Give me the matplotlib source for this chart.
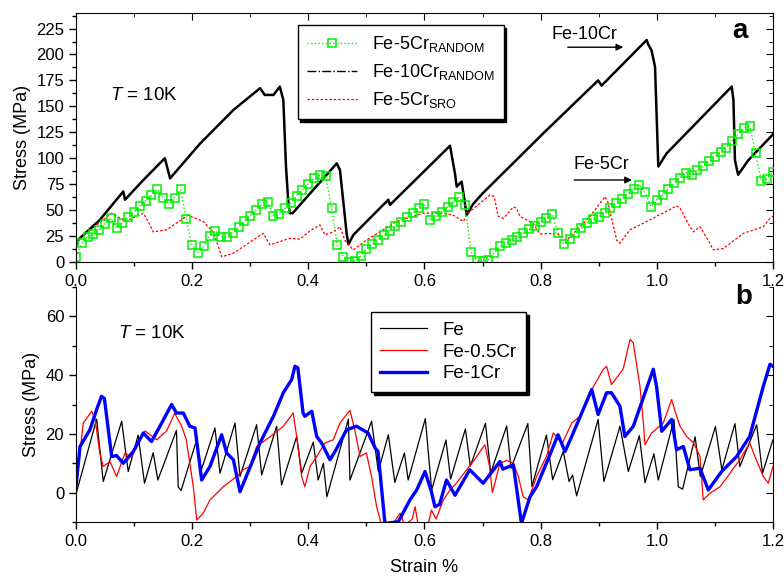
import matplotlib
matplotlib.use('Agg')
import matplotlib.pyplot as plt
from matplotlib.lines import Line2D
from matplotlib.ticker import MultipleLocator

plt.rcParams['font.family'] = 'Liberation Sans'
plt.rcParams['mathtext.fontset'] = 'custom'
plt.rcParams['mathtext.rm'] = 'Liberation Sans'
plt.rcParams['mathtext.it'] = 'Liberation Sans:italic'

# ---- panel a: Fe-Cr random vs SRO ----
fe10_x = [0, 0.005, 0.041, 0.0815, 0.0844, 0.116, 0.153, 0.162, 0.2135, 0.271, 0.317, 0.325,
          0.340, 0.351, 0.357, 0.3616, 0.3657, 0.368, 0.373, 0.403, 0.449, 0.4545, 0.466, 0.469,
          0.4775, 0.5378, 0.5406, 0.644, 0.6526, 0.6555, 0.664, 0.6727, 0.684, 0.7, 0.8046, 0.899,
          0.905, 0.9826, 0.985, 0.991, 0.997, 0.9998, 1.0026, 1.017, 1.129, 1.132, 1.1346, 1.140,
          1.1575, 1.2]
fe10_y = [16, 22, 40.5, 68, 60, 79, 100, 80.6, 114, 146.5, 167.5, 161,
          161, 169, 156, 92, 56.5, 47, 47, 66, 95, 88.7, 27.6, 17,
          26, 60, 55, 112, 85, 72.6, 77.4, 45.3, 56, 66, 124, 175,
          170, 214, 210, 204, 188, 140, 92, 104.7, 169, 156, 98, 84,
          98, 123]

fe5_x = [0.00, 0.01, 0.02, 0.03, 0.04, 0.05, 0.06, 0.07, 0.08, 0.09, 0.10, 0.11, 0.12, 0.13,
         0.14, 0.15, 0.16, 0.17, 0.18, 0.19, 0.20, 0.21, 0.22, 0.23, 0.24, 0.25, 0.26, 0.27,
         0.28, 0.29, 0.30, 0.31, 0.32, 0.33, 0.34, 0.35, 0.36, 0.37, 0.38, 0.39, 0.40, 0.41,
         0.42, 0.43, 0.44, 0.45, 0.46, 0.47, 0.48, 0.49, 0.50, 0.51, 0.52, 0.53, 0.54, 0.55,
         0.56, 0.57, 0.58, 0.59, 0.60, 0.61, 0.62, 0.63, 0.64, 0.65, 0.66, 0.67, 0.68, 0.69,
         0.70, 0.71, 0.72, 0.73, 0.74, 0.75, 0.76, 0.77, 0.78, 0.79, 0.80, 0.81, 0.82, 0.83,
         0.84, 0.85, 0.86, 0.87, 0.88, 0.89, 0.90, 0.91, 0.92, 0.93, 0.94, 0.95, 0.96, 0.97,
         0.98, 0.99, 1.00, 1.01, 1.02, 1.03, 1.04, 1.05, 1.06, 1.07, 1.08, 1.09, 1.10, 1.11,
         1.12, 1.13, 1.14, 1.15, 1.16, 1.17, 1.18, 1.19, 1.20]
fe5_y = [5, 18, 23.6, 27, 30.6, 37, 42, 33, 38, 43, 48, 54, 59, 64.6,
         70, 62, 55.5, 62, 70, 41, 16, 9, 15, 25, 30, 24.5, 24, 28.3,
         33.7, 39, 44.5, 50, 55.4, 58, 44.6, 46, 51.6, 57, 63.4, 69.4, 75.4, 81,
         83.4, 83, 52, 16, 5, 0.2, 1, 5.6, 12.7, 17, 21.4, 25.8, 30, 34.4,
         38.8, 43, 47.4, 51.7, 56, 40.6, 44.3, 48, 53, 58, 62.5, 55, 10, 1,
         0.5, 1.8, 8.5, 15, 18, 21.3, 24.5, 27.6, 31.3, 35, 38.9, 42.6, 46.3, 28,
         17, 22.3, 27.5, 32.7, 38, 41, 43, 47.4, 52, 56.4, 60.9, 65.4, 69.9, 74.4,
         67, 53, 60, 65, 70.6, 75.8, 81, 86.2, 84, 88.4, 92.8, 97.2, 101.6, 106,
         110.3, 117, 123, 129, 131, 105, 78, 80, 87]

sro_x = [0, 0.0615, 0.0844, 0.116, 0.127, 0.133, 0.156, 0.185, 0.193, 0.219, 0.236, 0.245,
         0.251, 0.271, 0.3225, 0.334, 0.368, 0.3857, 0.403, 0.42, 0.4287, 0.443, 0.4545, 0.463,
         0.4775, 0.5, 0.552, 0.598, 0.6325, 0.6497, 0.667, 0.675, 0.7128, 0.72, 0.727, 0.736,
         0.753, 0.758, 0.7645, 0.787, 0.799, 0.8276, 0.845, 0.885, 0.9108, 0.9156, 0.931, 0.936,
         0.954, 0.988, 1.034, 1.04, 1.057, 1.063, 1.074, 1.0916, 1.0973, 1.1146, 1.149, 1.1834,
         1.195, 1.2]
sro_y = [20, 47, 39, 47, 36, 29, 31, 42, 45, 39, 29, 15,
         5, 8.4, 27.6, 16.4, 22.8, 22, 30, 35.7, 26, 29, 34, 21,
         11.6, 21, 39, 47, 47, 45, 39, 47, 64.6, 63, 44, 42,
         53, 52, 44, 37, 27, 27.6, 21, 43.7, 63, 58, 21, 18,
         31, 40.5, 54, 52, 34, 29, 34, 18, 11.6, 13, 27.6, 34,
         42, 44]

# ---- panel b: Fe, Fe-0.5Cr, Fe-1Cr ----
fe_x = [0, 0.0356, 0.047, 0.0787, 0.090, 0.107, 0.118, 0.133, 0.141, 0.173, 0.176, 0.181,
        0.2078, 0.216, 0.2393, 0.248, 0.2738, 0.2824, 0.311, 0.3197, 0.3455, 0.354, 0.380,
        0.3886, 0.4086, 0.417, 0.426, 0.432, 0.469, 0.4718, 0.509, 0.5205, 0.5378, 0.549,
        0.5655, 0.572, 0.6015, 0.6124, 0.637, 0.645, 0.6705, 0.679, 0.705, 0.714, 0.7416,
        0.749, 0.778, 0.785, 0.810, 0.8207, 0.839, 0.849, 0.855, 0.862, 0.899, 0.909, 0.9366,
        0.951, 0.970, 0.9797, 0.995, 1.0026, 1.0296, 1.037, 1.0445, 1.066, 1.075, 1.101, 1.112,
        1.1346, 1.143, 1.172, 1.182, 1.2]
fe_y = [-0.5, 25, 3.8, 24.3, 7.2, 19.6, 3.2, 13.6, 4.3, 21.2, 2, 0.7,
        18, 7.8, 22, 6.6, 23.7, 5.5, 23.1, 6, 22.6, 2.6, 19.1,
        6.6, 17.2, 4.3, 10, -1.4, 25, 4.3, 24.3, 7.2, 19.7, 3.5,
        13.5, 4.3, 25.2, 0.9, 17.9, 4.6, 21.7, 9, 23.6, 6.7, 22.7,
        8.3, 23.5, 2.1, 19.6, 4.4, 14, 3.8, 6, -1.1, 24.9, 3.8, 22.6,
        7.2, 19.4, 3.4, 13.2, 4.3, 24.9, 2, 1.2, 19, 5.5, 22.5, 7.8,
        23.5, 8.9, 23.1, 6.6, 18]

cr05_x = [0, 0.0126, 0.027, 0.033, 0.041, 0.047, 0.0585, 0.070, 0.0844, 0.096, 0.107, 0.119,
          0.139, 0.156, 0.170, 0.182, 0.190, 0.202, 0.208, 0.219, 0.2307, 0.2536, 0.2766, 0.288,
          0.2996, 0.311, 0.334, 0.357, 0.374, 0.380, 0.3886, 0.394, 0.403, 0.4145, 0.4287, 0.443,
          0.4545, 0.4717, 0.480, 0.489, 0.500, 0.5089, 0.5177, 0.526, 0.545, 0.558, 0.566, 0.579,
          0.584, 0.590, 0.605, 0.612, 0.620, 0.6325, 0.644, 0.655, 0.6727, 0.684, 0.704, 0.712,
          0.717, 0.730, 0.742, 0.753, 0.7616, 0.770, 0.7788, 0.793, 0.810, 0.8218, 0.838, 0.8535,
          0.868, 0.885, 0.908, 0.9136, 0.922, 0.942, 0.954, 0.9595, 0.971, 0.977, 0.9797, 0.991,
          1.0112, 1.0256, 1.031, 1.040, 1.0515, 1.063, 1.0744, 1.080, 1.0916, 1.109, 1.126, 1.143,
          1.160, 1.169, 1.1834, 1.192, 1.2]
cr05_y = [2, 23.7, 27.7, 25, 13.5, 8.9, 10.6, 5.5, 13.5, 12, 17, 21,
          18, 21, 27, 22.6, 18, 2, -9.3, -7, -2.5, 2, 5.5, 7.8,
          8.9, 15.7, 19, 22.6, 27.1, 19.1, 5.5, 2, 8.9, 12.3, 16.9, 18,
          23.7, 28, 21.4, 12.3, 13.5, 5.5, -4.8, -11, -11, -7, -11, -9,
          -4.8, -12, -12, -5.9, -9, -2.5, 0.9, 3.2, 7.8, 10.6, 16.3, 9,
          0, 10, 11, 10, 5.5, -1.4, -2.5, 5.5, 12.3, 20.3, 17, 23.7,
          26, 34, 42, 43, 36.8, 42, 52.2, 51, 36.2, 23.7, 16.3, 20.3,
          23.7, 31.7, 28, 22.6, 19.1, 17, 12.3, -2.5, -0.2, 2, 6.6, 11.2,
          16.9, 12.3, 5.5, 3.2, 8.9]

cr1_x = [0, 0.007, 0.024, 0.0356, 0.044, 0.049, 0.0557, 0.0615, 0.070, 0.0815, 0.0987, 0.116,
         0.130, 0.1446, 0.1647, 0.173, 0.1848, 0.196, 0.205, 0.2164, 0.2307, 0.2508, 0.2594,
         0.271, 0.2824, 0.2967, 0.3168, 0.340, 0.357, 0.3714, 0.377, 0.382, 0.391, 0.394, 0.406,
         0.4145, 0.423, 0.4373, 0.446, 0.466, 0.483, 0.503, 0.515, 0.52, 0.532, 0.555, 0.575,
         0.5866, 0.601, 0.612, 0.618, 0.626, 0.638, 0.6526, 0.678, 0.701, 0.730, 0.735, 0.753,
         0.767, 0.7817, 0.793, 0.816, 0.830, 0.842, 0.8535, 0.888, 0.899, 0.9136, 0.922, 0.9366,
         0.945, 0.9596, 0.994, 0.9997, 1.0085, 1.0256, 1.034, 1.0457, 1.057, 1.0744, 1.0887,
         1.1117, 1.1375, 1.160, 1.1834, 1.1949, 1.2]
cr1_y = [2, 15.7, 21.4, 28.3, 32.8, 32, 21.4, 12.3, 12.6, 10, 14, 20.3,
         17.4, 22.6, 30, 27.1, 27.1, 22.6, 22, 4.3, 8.9, 19.7, 13.5,
         11.2, 0.3, 7.2, 16.9, 26, 34, 38.5, 43, 42.5, 27.1, 26, 27.7,
         19.1, 16.9, 11.2, 14, 21.4, 22.6, 20.3, 15.2, 14, -10.5, -9.9, -2.5,
         0.9, 7.2, 0.3, -4.8, -4, 4.3, -0.9, 7.8, 3.2, 10.6, 8, 9.5,
         -10.5, -1.4, 2, 12.9, 19.7, 14, 19.1, 35.1, 26.6, 34, 34, 29.4,
         19.1, 22.6, 42, 36, 20.9, 24.9, 14.6, 15.7, 7.8, 8.3, 0.9,
         7.2, 12.3, 19.1, 36.2, 43.7, 43]

GREEN = '#00f000'


def style_axes(ax, ymaj, ymin, has_top):
    ax.set_xlim(0, 1.2)
    ax.xaxis.set_major_locator(MultipleLocator(0.2))
    ax.xaxis.set_minor_locator(MultipleLocator(0.1))
    ax.yaxis.set_major_locator(MultipleLocator(ymaj))
    ax.yaxis.set_minor_locator(MultipleLocator(ymin))
    ax.tick_params(which='both', direction='out', labelsize=12, width=1)
    ax.tick_params(which='major', length=5)
    ax.tick_params(which='minor', length=3)
    ax.spines['right'].set_visible(False)
    ax.spines['top'].set_visible(False)
    sy = ax.secondary_yaxis('right')
    sy.yaxis.set_major_locator(MultipleLocator(ymaj))
    sy.yaxis.set_minor_locator(MultipleLocator(ymin))
    sy.tick_params(which='both', direction='in', labelright=False)
    sy.tick_params(which='major', length=5)
    sy.tick_params(which='minor', length=3)
    if has_top:
        sx = ax.secondary_xaxis('top')
        sx.xaxis.set_major_locator(MultipleLocator(0.2))
        sx.xaxis.set_minor_locator(MultipleLocator(0.1))
        sx.tick_params(which='both', direction='in', labeltop=False)
        sx.tick_params(which='major', length=5)
        sx.tick_params(which='minor', length=3)


fig = plt.figure(figsize=(7.84, 5.77), dpi=100)
ax1 = fig.add_axes([0.0969, 0.546, 0.889, 0.4315])
ax2 = fig.add_axes([0.0969, 0.0953, 0.889, 0.4073])

# panel a
ax1.plot(fe10_x, fe10_y, color='black', lw=1.8)
ax1.plot(sro_x, sro_y, color='red', lw=0.9, ls=(0, (2, 1.5)))
ax1.plot(fe5_x, fe5_y, color=GREEN, lw=1, ls=':', marker='s', ms=5.5,
         mfc='none', mec=GREEN, mew=1.1)
ax1.set_ylim(0, 240)
style_axes(ax1, 25, 12.5, True)
ax1.set_ylabel('Stress (MPa)', fontsize=13)

handles_a = [
    Line2D([], [], color=GREEN, lw=1, ls=':', marker='s', ms=5.5, mfc='none', mew=1.1),
    Line2D([], [], color='black', lw=1, ls='-.'),
    Line2D([], [], color='red', lw=0.9, ls=(0, (2, 1.5))),
]
labels_a = [r'Fe-5Cr$_{\mathrm{RANDOM}}$', r'Fe-10Cr$_{\mathrm{RANDOM}}$', r'Fe-5Cr$_{\mathrm{SRO}}$']
leg = ax1.legend(handles_a, labels_a, loc='upper left', bbox_to_anchor=(0.305, 0.988),
                 fontsize=13, frameon=True, fancybox=False, edgecolor='black',
                 shadow={'color': 'black', 'alpha': 1}, handlelength=2.8, labelspacing=0.45,
                 borderpad=0.5, framealpha=1, numpoints=1)
leg.get_frame().set_linewidth(1)

ax1.text(0.049, 0.67, '$T$ = 10K', transform=ax1.transAxes, fontsize=13.5, va='center')
ax1.text(0.953, 0.928, 'a', transform=ax1.transAxes, fontsize=20, fontweight='bold',
         ha='center', va='center')
ax1.text(0.876, 219, 'Fe-10Cr', fontsize=13, ha='center', va='center')
ax1.annotate('', xy=(0.947, 207), xytext=(0.842, 207),
             arrowprops=dict(arrowstyle='-|>', color='black', lw=1, mutation_scale=10))
ax1.text(0.904, 93.5, 'Fe-5Cr', fontsize=13, ha='center', va='center')
ax1.annotate('', xy=(0.962, 79), xytext=(0.853, 79),
             arrowprops=dict(arrowstyle='-|>', color='black', lw=1, mutation_scale=10))

# panel b
ax2.plot(fe_x, fe_y, color='black', lw=0.9, label='Fe')
ax2.plot(cr05_x, cr05_y, color='red', lw=0.9, label='Fe-0.5Cr')
ax2.plot(cr1_x, cr1_y, color='#0000ff', lw=2.4, label='Fe-1Cr')
ax2.set_ylim(-10, 70)
style_axes(ax2, 20, 10, False)
ax2.set_ylabel('Stress (MPa)', fontsize=13)
ax2.set_xlabel('Strain %', fontsize=13, labelpad=7)

leg2 = ax2.legend(loc='upper left', bbox_to_anchor=(0.41, 0.932), fontsize=13.5,
                  frameon=True, fancybox=False, edgecolor='black',
                  shadow={'color': 'black', 'alpha': 1}, handlelength=2.5, labelspacing=0.25,
                  borderpad=0.5, framealpha=1)
leg2.get_frame().set_linewidth(1)

ax2.text(0.06, 0.802, '$T$ = 10K', transform=ax2.transAxes, fontsize=13.5, va='center')
ax2.text(0.958, 0.957, 'b', transform=ax2.transAxes, fontsize=20, fontweight='bold',
         ha='center', va='center')

fig.savefig('out.png', dpi=100)
